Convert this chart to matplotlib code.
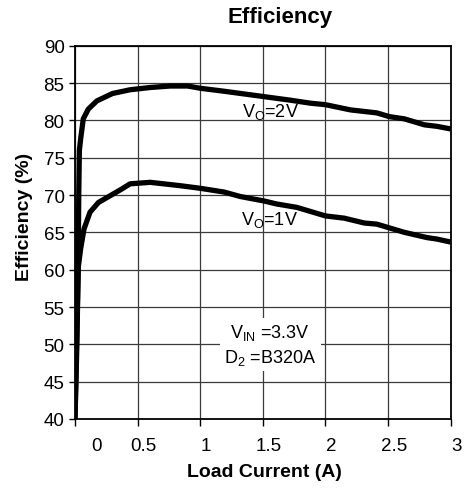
import matplotlib
matplotlib.use("Agg")
import matplotlib.pyplot as plt
import matplotlib.transforms as mtransforms

plt.rcParams['font.family'] = ['Liberation Sans', 'DejaVu Sans']
plt.rcParams['mathtext.fontset'] = 'custom'
plt.rcParams['mathtext.rm'] = 'Liberation Sans'
plt.rcParams['mathtext.it'] = 'Liberation Sans'

# Data
vo2_x = [0.0, 0.015, 0.025, 0.03, 0.035, 0.045, 0.066, 0.106, 0.174, 0.30, 0.44,
         0.60, 0.76, 0.90, 1.0, 1.19, 1.5, 1.72, 1.88, 2.0, 2.2, 2.41, 2.51,
         2.63, 2.79, 2.89, 3.0]
vo2_y = [40.0, 50.0, 60.0, 70.0, 76.0, 77.5, 80.2, 81.5, 82.6, 83.6, 84.1,
         84.4, 84.6, 84.6, 84.3, 83.9, 83.2, 82.7, 82.3, 82.1, 81.4, 81.0, 80.5,
         80.2, 79.4, 79.2, 78.85]

vo1_x = [0.0, 0.012, 0.026, 0.045, 0.072, 0.12, 0.187, 0.28, 0.373, 0.44, 0.60,
         0.68, 0.84, 1.0, 1.19, 1.32, 1.51, 1.61, 1.77, 1.88, 2.0, 2.15, 2.31,
         2.41, 2.51, 2.63, 2.81, 2.89, 3.0]
vo1_y = [40.0, 50.0, 60.3, 62.8, 65.45, 67.7, 69.0, 69.9, 70.8, 71.5, 71.7,
         71.55, 71.25, 70.9, 70.4, 69.8, 69.2, 68.8, 68.35, 67.8, 67.2, 66.9, 66.25,
         66.1, 65.6, 65.0, 64.3, 64.1, 63.7]

x_ticks = [0, 0.5, 1, 1.5, 2, 2.5, 3]
x_tick_labels = ['0', '0.5', '1', '1.5', '2', '2.5', '3']
y_ticks = [40, 45, 50, 55, 60, 65, 70, 75, 80, 85, 90]

fig = plt.figure(figsize=(4.77, 4.89), dpi=100)
ax = fig.add_axes([75/477, 1-420/489, (450.7-75)/477, (420-46.7)/489])

ax.plot(vo2_x, vo2_y, color='black', lw=3.8, solid_capstyle='butt', zorder=3)
ax.plot(vo1_x, vo1_y, color='black', lw=3.8, solid_capstyle='butt', zorder=3)

ax.set_xlim(0, 3)
ax.set_ylim(40, 90)
ax.set_xticks(x_ticks)
ax.set_xticklabels(x_tick_labels)
ax.set_yticks(y_ticks)
ax.grid(True, color='#3a3a3a', lw=0.9)
ax.set_axisbelow(True)
for s in ax.spines.values():
    s.set_linewidth(1.3)
    s.set_color('black')

ax.tick_params(axis='x', direction='out', length=5, width=1.0, pad=8, labelsize=13.5)
ax.tick_params(axis='y', direction='out', length=4.5, width=1.0, pad=3, labelsize=13.5)

# shift x tick labels slightly to the right, as in the reference
for i, lbl in enumerate(ax.get_xticklabels()):
    dx = 21.7 if i == 0 else 6.0
    off = mtransforms.ScaledTranslation(dx/100, 0, fig.dpi_scale_trans)
    lbl.set_transform(lbl.get_transform() + off)

ax.text(1.558, 80.63, r'V$_\mathregular{O}$=2V', ha='center', va='baseline', fontsize=13, zorder=4)
ax.text(1.55, 66.12, r'V$_\mathregular{O}$=1V', ha='center', va='baseline', fontsize=13, zorder=4)

ax.text(1.56, 50.0, 'V$_\\mathregular{IN}$ =3.3V\nD$_\\mathregular{2}$ =B320A', ha='center', va='center',
        fontsize=13, linespacing=1.35, zorder=4,
        bbox=dict(facecolor='white', edgecolor='none', pad=3))

fig.text(280/477, 1-18/489, 'Efficiency', ha='center', va='center', fontsize=16, fontweight='bold')
fig.text(264/477, 1-473/489, 'Load Current (A)', ha='center', va='center', fontsize=14, fontweight='bold')
fig.text(25/477, 1-217.4/489, 'Efficiency (%)', ha='center', va='center', fontsize=14,
         fontweight='bold', rotation=90)

fig.savefig('out.png', dpi=100)
